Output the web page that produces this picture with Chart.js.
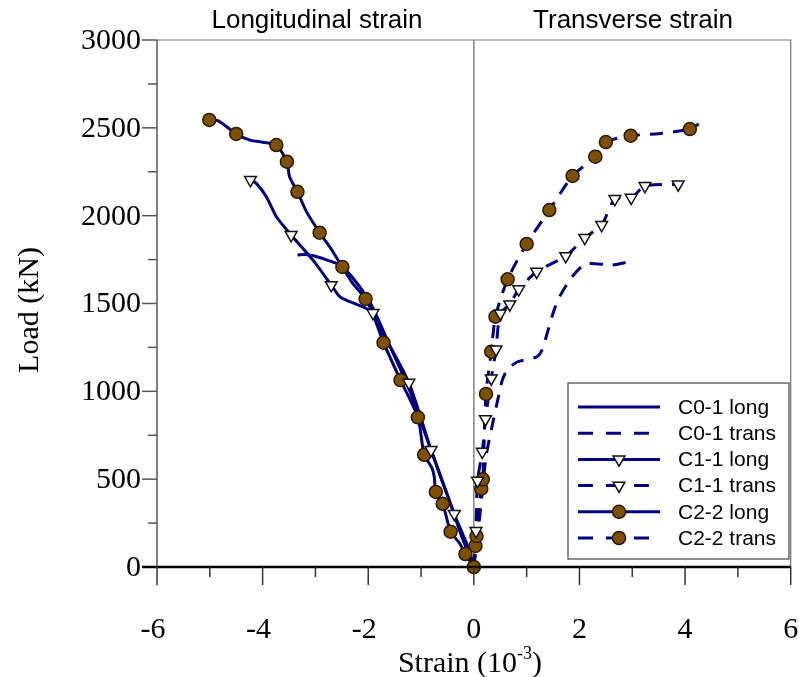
<!DOCTYPE html>
<html>
<head>
<meta charset="utf-8">
<script src="https://cdn.jsdelivr.net/npm/chart.js@4.4.0/dist/chart.umd.min.js"></script>
<style>
  html, body { margin: 0; padding: 0; background: #fff; }
</style>
</head>
<body>
<canvas id="loadChart" width="799" height="677"></canvas>
<script>
// ticks
const xTicks = [-6, -4, -2, 0, 2, 4, 6];
const yTicks = [0, 500, 1000, 1500, 2000, 2500, 3000];

// C0-1
const c01LongX = [-3.34, -3.20, -3.02, -2.79, -2.54, -2.26, -1.94, -1.60, -1.22, -0.88, -0.50, -0.24, 0];
const c01LongY = [1776, 1779, 1770, 1748, 1719, 1634, 1491, 1264, 1008, 723, 410, 182, 0];
const c01TransX = [0, 0.08, 0.16, 0.23, 0.33, 0.48, 0.54, 0.63, 0.82, 1.18, 1.29, 1.39, 1.52, 1.62, 1.86, 2.12, 2.62, 2.98];
const c01TransY = [0, 200, 430, 628, 780, 990, 1064, 1121, 1167, 1195, 1235, 1332, 1463, 1537, 1651, 1725, 1719, 1740];

// C1-1
const c11LongX = [-4.23, -4.12, -3.93, -3.74, -3.46, -3.05, -2.70, -2.54, -2.35, -2.11, -1.91, -1.79, -1.23, -0.81, -0.37, -0.09, 0];
const c11LongY = [2203, 2184, 2108, 1994, 1890, 1748, 1605, 1539, 1510, 1482, 1446, 1368, 1049, 666, 302, 97, 0];
const c11LongMarkX = [-4.23, -3.46, -2.70, -1.91, -1.23, -0.81, -0.37];
const c11LongMarkY = [2203, 1890, 1605, 1446, 1049, 666, 302];
const c11TransX = [0, 0.04, 0.07, 0.16, 0.22, 0.33, 0.42, 0.50, 0.68, 0.85, 1.19, 1.74, 2.10, 2.42, 2.67, 2.98, 3.24, 3.87];
const c11TransY = [0, 205, 491, 656, 842, 1074, 1239, 1444, 1495, 1581, 1681, 1770, 1874, 1947, 2095, 2102, 2169, 2178];
const c11TransMarkX = [0.04, 0.07, 0.16, 0.22, 0.33, 0.42, 0.50, 0.68, 0.85, 1.19, 1.74, 2.10, 2.42, 2.67, 2.98, 3.24, 3.87];
const c11TransMarkY = [205, 491, 656, 842, 1074, 1239, 1444, 1495, 1581, 1681, 1770, 1874, 1947, 2095, 2102, 2169, 2178];

// C2-2
const c22LongX = [-5.01, -4.85, -4.68, -4.50, -4.24, -4.00, -3.74, -3.54, -3.49, -3.34, -3.17, -2.92, -2.73, -2.49, -2.30, -2.05, -1.92, -1.71, -1.39, -1.06, -0.94, -0.79, -0.75, -0.72, -0.59, -0.44, -0.27, -0.16, 0];
const c22LongY = [2545, 2541, 2506, 2465, 2430, 2418, 2402, 2307, 2222, 2136, 2023, 1903, 1823, 1708, 1617, 1526, 1446, 1277, 1064, 852, 639, 562, 514, 427, 360, 201, 135, 74, 0];
const c22LongMarkX = [-5.01, -4.50, -3.74, -3.54, -3.34, -2.92, -2.49, -2.05, -1.71, -1.39, -1.06, -0.94, -0.72, -0.59, -0.44, -0.16, 0];
const c22LongMarkY = [2545, 2465, 2402, 2307, 2136, 1903, 1708, 1526, 1277, 1064, 852, 639, 427, 360, 201, 74, 0];
const c22TransX = [0, 0.03, 0.05, 0.14, 0.17, 0.23, 0.33, 0.41, 0.64, 1.00, 1.43, 1.87, 2.30, 2.50, 2.97, 3.50, 3.80, 4.09, 4.26];
const c22TransY = [0, 120, 176, 446, 499, 985, 1226, 1425, 1638, 1839, 2032, 2226, 2336, 2419, 2455, 2466, 2478, 2493, 2522];
const c22TransMarkX = [0.03, 0.05, 0.14, 0.17, 0.23, 0.33, 0.41, 0.64, 1.00, 1.43, 1.87, 2.30, 2.50, 2.97, 4.09];
const c22TransMarkY = [120, 176, 446, 499, 985, 1226, 1425, 1638, 1839, 2032, 2226, 2336, 2419, 2455, 2493];

// colors
const navy = '#000080';
const brown = '#7f5000';
const dash = [13, 10];
const legendDash = [15, 13];

const serif = '"Liberation Serif", "Times New Roman", serif';
const sans = '"Liberation Sans", Arial, sans-serif';

function pts(xs, ys) {
    return xs.map((x, i) => ({ x: x, y: ys[i] }));
}

const markerStyles = {
    tri: { pointStyle: 'triangle', rotation: 180, radius: 6.8, fill: '#ffffff', stroke: '#111111' },
    dot: { pointStyle: 'circle', rotation: 0, radius: 6.5, fill: brown, stroke: '#2a1a00' }
};

function lineSet(label, xs, ys, dashed) {
    return {
        label: label,
        data: pts(xs, ys),
        showLine: true,
        borderColor: navy,
        borderWidth: 3,
        borderDash: dashed ? dash : [],
        pointRadius: 0,
        tension: 0.25,
        fill: false,
        order: 1
    };
}

function markSet(label, xs, ys, kind) {
    const m = markerStyles[kind];
    return {
        label: label,
        data: pts(xs, ys),
        showLine: false,
        pointStyle: m.pointStyle,
        pointRotation: m.rotation,
        pointRadius: m.radius,
        pointBackgroundColor: m.fill,
        pointBorderColor: m.stroke,
        pointBorderWidth: 1.5,
        order: 0
    };
}

// legend rows
const legendRows = [
    { label: 'C0-1 long', dashed: false, marker: null },
    { label: 'C0-1 trans', dashed: true, marker: null },
    { label: 'C1-1 long', dashed: false, marker: 'tri' },
    { label: 'C1-1 trans', dashed: true, marker: 'tri' },
    { label: 'C2-2 long', dashed: false, marker: 'dot' },
    { label: 'C2-2 trans', dashed: true, marker: 'dot' }
];

// axes, frame, labels, legend
const decorPlugin = {
    id: 'decor',
    beforeDatasetsDraw(chart) {
        const { ctx, chartArea: a, scales } = chart;
        const x0 = scales.x.getPixelForValue(0);
        ctx.save();
        // frame top / right
        ctx.strokeStyle = '#707070';
        ctx.lineWidth = 1.2;
        ctx.beginPath();
        ctx.moveTo(a.left, a.top);
        ctx.lineTo(a.right, a.top);
        ctx.lineTo(a.right, a.bottom);
        ctx.stroke();
        // zero line
        ctx.strokeStyle = '#8a8a8a';
        ctx.lineWidth = 1.6;
        ctx.beginPath();
        ctx.moveTo(x0, a.top);
        ctx.lineTo(x0, a.bottom);
        ctx.stroke();
        ctx.restore();
    },
    afterDraw(chart) {
        const { ctx, chartArea: a, scales } = chart;
        const xs = scales.x, ys = scales.y;
        ctx.save();

        // left axis
        ctx.strokeStyle = '#555555';
        ctx.lineWidth = 1.5;
        ctx.beginPath();
        ctx.moveTo(a.left, a.top);
        ctx.lineTo(a.left, a.bottom);
        ctx.stroke();
        for (let v = 0; v <= 3000; v += 250) {
            const py = ys.getPixelForValue(v);
            const len = v % 500 === 0 ? 15 : 9;
            ctx.beginPath();
            ctx.moveTo(a.left - len, py);
            ctx.lineTo(a.left, py);
            ctx.stroke();
        }

        // bottom axis
        ctx.strokeStyle = '#000000';
        ctx.lineWidth = 2.5;
        ctx.beginPath();
        ctx.moveTo(a.left - 15, a.bottom);
        ctx.lineTo(a.right, a.bottom);
        ctx.stroke();
        ctx.lineWidth = 1.5;
        ctx.strokeStyle = '#333333';
        for (let v = -6; v <= 6; v += 1) {
            const px = xs.getPixelForValue(v);
            const len = v % 2 === 0 ? 18 : 10;
            ctx.beginPath();
            ctx.moveTo(px, a.bottom);
            ctx.lineTo(px, a.bottom + len);
            ctx.stroke();
        }

        // tick labels
        ctx.fillStyle = '#000';
        ctx.font = '30px ' + serif;
        ctx.textAlign = 'right';
        ctx.textBaseline = 'middle';
        yTicks.forEach(v => ctx.fillText(String(v), a.left - 16, ys.getPixelForValue(v) + 1));
        ctx.textAlign = 'center';
        xTicks.forEach(v => {
            const shift = v < 0 ? -4 : 0;
            ctx.fillText(String(v), xs.getPixelForValue(v) + shift, 630);
        });

        // axis titles
        ctx.save();
        ctx.translate(30, 310);
        ctx.rotate(-Math.PI / 2);
        ctx.font = '30px ' + serif;
        ctx.textAlign = 'center';
        ctx.textBaseline = 'middle';
        ctx.fillText('Load (kN)', 0, 0);
        ctx.restore();

        const p1 = 'Strain (10', sup = '-3', p2 = ')';
        ctx.font = '30px ' + serif;
        const w1 = ctx.measureText(p1).width;
        const w3 = ctx.measureText(p2).width;
        ctx.font = '18px ' + serif;
        const w2 = ctx.measureText(sup).width;
        const tx = 470 - (w1 + w2 + w3) / 2;
        ctx.textAlign = 'left';
        ctx.textBaseline = 'alphabetic';
        ctx.font = '30px ' + serif;
        ctx.fillText(p1, tx, 672);
        ctx.font = '18px ' + serif;
        ctx.fillText(sup, tx + w1, 659);
        ctx.font = '30px ' + serif;
        ctx.fillText(p2, tx + w1 + w2, 672);

        // region titles
        ctx.font = '26px ' + sans;
        ctx.textAlign = 'center';
        ctx.textBaseline = 'middle';
        ctx.fillText('Longitudinal strain', 317, 21);
        ctx.fillText('Transverse strain', 633, 21);

        // legend
        const box = { l: 568, t: 383, r: 789, b: 559 };
        ctx.fillStyle = '#fff';
        ctx.fillRect(box.l, box.t, box.r - box.l, box.b - box.t);
        ctx.strokeStyle = '#444';
        ctx.lineWidth = 1.2;
        ctx.strokeRect(box.l, box.t, box.r - box.l, box.b - box.t);
        legendRows.forEach((row, i) => {
            const cy = 407 + i * 26.2;
            ctx.strokeStyle = navy;
            ctx.lineWidth = 3;
            ctx.setLineDash(row.dashed ? legendDash : []);
            ctx.beginPath();
            ctx.moveTo(578, cy);
            ctx.lineTo(660, cy);
            ctx.stroke();
            ctx.setLineDash([]);
            if (row.marker) {
                const m = markerStyles[row.marker];
                ctx.fillStyle = m.fill;
                ctx.strokeStyle = m.stroke;
                ctx.lineWidth = 1.5;
                Chart.helpers.drawPoint(ctx, {
                    pointStyle: m.pointStyle,
                    rotation: m.rotation,
                    radius: m.radius,
                    borderWidth: 1.5
                }, 619, cy);
            }
            ctx.fillStyle = '#000';
            ctx.font = '21px ' + sans;
            ctx.textAlign = 'left';
            ctx.textBaseline = 'middle';
            ctx.fillText(row.label, 678, cy + 1);
        });

        ctx.restore();
    }
};

const datasets = [
    lineSet('C0-1 long', c01LongX, c01LongY, false),
    lineSet('C0-1 trans', c01TransX, c01TransY, true),
    lineSet('C1-1 long', c11LongX, c11LongY, false),
    lineSet('C1-1 trans', c11TransX, c11TransY, true),
    lineSet('C2-2 long', c22LongX, c22LongY, false),
    lineSet('C2-2 trans', c22TransX, c22TransY, true),
    markSet('C1-1 long', c11LongMarkX, c11LongMarkY, 'tri'),
    markSet('C1-1 trans', c11TransMarkX, c11TransMarkY, 'tri'),
    markSet('C2-2 long', c22LongMarkX, c22LongMarkY, 'dot'),
    markSet('C2-2 trans', c22TransMarkX, c22TransMarkY, 'dot')
];

new Chart(document.getElementById('loadChart'), {
    type: 'scatter',
    data: { datasets: datasets },
    options: {
        responsive: false,
        animation: false,
        devicePixelRatio: 1,
        clip: false,
        layout: { padding: { top: 40, right: 7, left: 0, bottom: 0 } },
        plugins: {
            legend: { display: false },
            tooltip: { enabled: false }
        },
        scales: {
            x: {
                type: 'linear',
                min: -6,
                max: 6,
                ticks: { display: false, stepSize: 2 },
                grid: { display: false, drawTicks: false },
                border: { display: false },
                afterFit: s => { s.height = 110; }
            },
            y: {
                type: 'linear',
                min: 0,
                max: 3000,
                ticks: { display: false, stepSize: 500 },
                grid: { display: false, drawTicks: false },
                border: { display: false },
                afterFit: s => { s.width = 157; }
            }
        }
    },
    plugins: [decorPlugin]
});
</script>
</body>
</html>
